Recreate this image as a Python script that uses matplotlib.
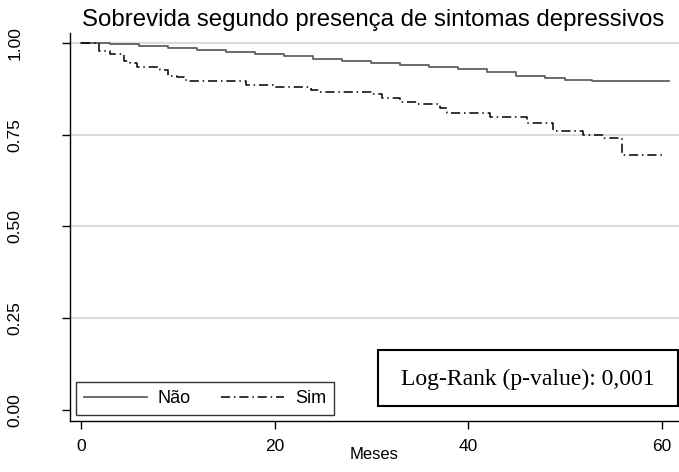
import matplotlib
matplotlib.use("Agg")
import matplotlib.pyplot as plt
from matplotlib.patches import Rectangle
from matplotlib.ticker import FixedLocator

# --- Data ---
# Nao (no depressive symptoms)
nao_t = [0, 3, 6, 9, 12, 15, 18, 21, 24, 27, 30, 33, 36, 39, 42, 45, 48, 50, 52.8, 60.8]
nao_s = [1.0, 0.996, 0.991, 0.987, 0.981, 0.975, 0.970, 0.964, 0.957, 0.951,
         0.945, 0.940, 0.934, 0.928, 0.921, 0.911, 0.904, 0.899, 0.895, 0.895]

# Sim (depressive symptoms)
sim_t = [0, 1.8, 3.0, 4.4, 5.1, 5.8, 8.2, 9.0, 9.9, 10.7, 11.3, 17.0, 20.0, 23.8,
         24.5, 30.0, 31.1, 33.0, 34.7, 37.1, 37.8, 42.3, 46.1, 48.8, 51.9, 54.0,
         55.9, 60.0]
sim_s = [1.0, 0.977, 0.970, 0.951, 0.944, 0.934, 0.925, 0.911, 0.906, 0.899,
         0.895, 0.886, 0.879, 0.872, 0.865, 0.860, 0.849, 0.840, 0.833, 0.824,
         0.808, 0.797, 0.781, 0.760, 0.749, 0.740, 0.695, 0.695]

x_ticks = [0, 20, 40, 60]
y_ticks = [0.0, 0.25, 0.5, 0.75, 1.0]
y_labels = ["0.00", "0.25", "0.50", "0.75", "1.00"]
title = "Sobrevida segundo presença de sintomas depressivos"
logrank_text = "Log-Rank (p-value): 0,001"

# --- Figure ---
plt.rcParams['font.family'] = ['Liberation Sans', 'DejaVu Sans']
W, H = 679, 472
fig = plt.figure(figsize=(W / 100, H / 100), dpi=100)
ax = fig.add_axes([70 / W, 1 - 421 / H, 609 / W, (421 - 33) / H])

# gridlines (none at 0)
for y in y_ticks[1:]:
    ax.axhline(y, color="#dcdcdc", lw=1.5, zorder=0)

ax.step(nao_t, nao_s, where="post", color="#606060", lw=1.3, label="Não")
ax.step(sim_t, sim_s, where="post", color="black", lw=1.1,
        linestyle=(0, (6, 2.5, 1, 2.5)), label="Sim")

ax.set_xlim(-1.15, 61.8)
ax.set_ylim(-0.03, 1.027)

ax.xaxis.set_major_locator(FixedLocator(x_ticks))
ax.set_yticks(y_ticks)
ax.set_yticklabels(y_labels, rotation=90, va="center")
ax.tick_params(axis="both", direction="out", length=6, width=1, labelsize=12.5)
ax.tick_params(axis="x", pad=7)
ax.tick_params(axis="y", pad=28)

for side in ["top", "right"]:
    ax.spines[side].set_visible(False)
for side in ["left", "bottom"]:
    ax.spines[side].set_linewidth(1)

ax.set_xlabel("Meses", fontsize=12, labelpad=-5)
fig.text(373 / W, 1 - 20 / H, title, ha="center", va="center", fontsize=17.3)

leg = ax.legend(loc="lower left", ncol=2, frameon=True, fancybox=False,
                edgecolor="black", fontsize=13, handlelength=3.5,
                handletextpad=0.6, columnspacing=1.65, borderpad=0.45,
                borderaxespad=0.0, bbox_to_anchor=(5.7 / 609, 6 / 388))
leg.get_frame().set_linewidth(1)

# Log-rank annotation box
fig.patches.append(Rectangle((378 / W, 1 - 406 / H), 300 / W, 56 / H,
                             transform=fig.transFigure, fc="white",
                             ec="black", lw=1.5, zorder=5))
fig.text(528 / W, 1 - 379 / H, logrank_text, ha="center", va="center",
         fontsize=17, family=["Liberation Serif", "DejaVu Serif"], zorder=6)

fig.savefig("out.png", dpi=100)
